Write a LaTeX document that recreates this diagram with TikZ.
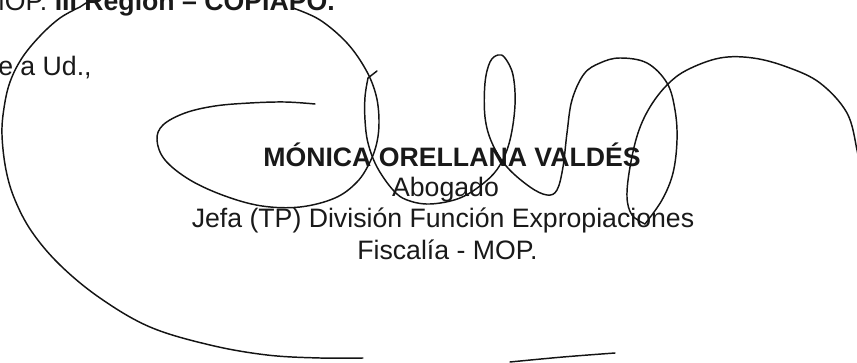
\documentclass[tikz,border=0pt]{standalone}
\usepackage{fontspec}
\setmainfont{Liberation Sans}
\usepackage{tikz}

\begin{document}
\begin{tikzpicture}[x=0.75pt,y=0.75pt,yscale=-1,xscale=1,
    sig/.style={color={rgb, 255:red, 20; green, 20; blue, 20}, line width=1.1pt, line cap=round, line join=round},
    txt/.style={inner sep=0pt, font=\fontsize{20}{24}\selectfont, color={rgb, 255:red, 25; green, 25; blue, 25}}]
            \useasboundingbox (0,0) rectangle (857,363);
            \clip (0,0) rectangle (857,363);

            % Text Node
            \node (head) [txt, anchor=base west] at (-17.6,11) {MOP. \textbf{III Región – COPIAPO.}};
            % Text Node
            \node (greet) [txt, anchor=base west] at (-2,76) {e a Ud.,};
            % Text Node
            \node (name) [txt, anchor=base] at (452,167) {\textbf{MÓNICA ORELLANA VALDÉS}};
            % Text Node
            \node (title) [txt, anchor=base] at (445.5,197) {Abogado};
            % Text Node
            \node (post) [txt, anchor=base] at (443,228) {Jefa (TP) División Función Expropiaciones};
            % Text Node
            \node (office) [txt, anchor=base] at (447.5,260) {Fiscalía - MOP.};

            %Curve Lines: left sweep
            \draw [sig] (86,3) -- (80,7);
            \draw [sig] plot [smooth, tension=0.6] coordinates {(80,7) (60,18) (40,36) (22,58) (10,82) (4,108) (2,135) (6,170) (15,200) (32,232) (60,265) (100,298) (150,327) (210,345) (267,355) (320,358) (363,358)};
            %Curve Lines: top arc and oval
            \draw [sig] plot [smooth, tension=0.6] coordinates {(293,8) (320,20) (347,43) (366,70) (376,95) (379,120) (377,142) (370,162) (357,182) (335,198) (300,207) (262,206) (225,196) (190,180) (165,160) (157,140) (163,125) (185,113) (215,106) (250,103) (285,102) (315,104)};
            %Curve Lines: loops
            \draw [sig] (377,71) -- (368,78);
            \draw [sig] plot [smooth, tension=0.6] coordinates {(368,78) (365,97) (365,120) (368,143) (377,167) (393,190) (407,200) (430,204) (460,198) (485,182) (500,165) (510,140) (515,105) (513,75) (505,58) (498,55) (490,62) (485,83) (485,117) (492,143) (507,167) (530,187) (547,195) (557,190) (563,167) (567,133) (572,100) (584,74) (600,63) (620,58) (647,63) (667,83) (675,110) (677,140) (673,173) (662,200) (645,224)};
            \draw [sig] plot [smooth, tension=0.6] coordinates {(645,224) (632,215) (627,197) (630,167) (638,133) (650,107) (667,85) (687,70) (720,58) (753,58) (787,67) (820,83) (847,113) (857,150) (860,170)};
            %Curve Lines: underline stroke
            \draw [sig] plot [smooth, tension=0.6] coordinates {(510,362) (563,357) (615,353)};
\end{tikzpicture}
\end{document}
